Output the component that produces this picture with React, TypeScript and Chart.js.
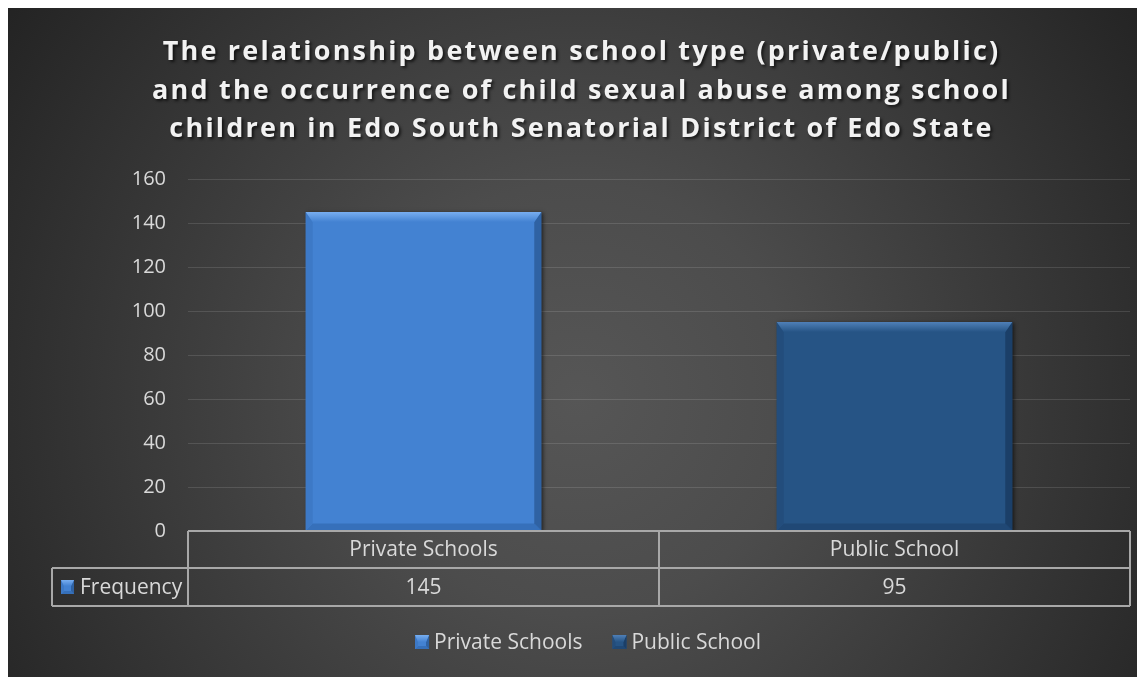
import React, { useEffect, useRef } from 'react';
import { Chart, registerables } from 'chart.js';

Chart.register(...registerables);

// ---------- data ----------
const titleLines = [
  'The relationship between school type (private/public)',
  'and the occurrence of child sexual abuse among school',
  'children in Edo South Senatorial District of Edo State',
];
const categories = ['Private Schools', 'Public School'];
const seriesName = 'Frequency';
const frequency = [145, 95];
const yMin = 0;
const yMax = 160;
const yStep = 20;

// ---------- styles ----------
const barFaces = ['#4382d2', '#265485'];
const bevelTopColors = ['#78aef0', '#4f80b8'];
const bevelLeftColors = ['#3d79c6', '#234d7c'];
const bevelRightColors = ['#2f62a3', '#1b3f68'];
const bevelBottomColors = ['#3670ba', '#204875'];
const textColor = '#d9d9d9';
const lineColor = '#a8a8a8';
const FONT = "'Open Sans', sans-serif";

function poly(ctx: CanvasRenderingContext2D, pts: number[][], fill: string | CanvasGradient) {
  ctx.beginPath();
  ctx.moveTo(pts[0][0], pts[0][1]);
  for (let i = 1; i < pts.length; i++) ctx.lineTo(pts[i][0], pts[i][1]);
  ctx.closePath();
  ctx.fillStyle = fill;
  ctx.fill();
}

function bevelRect(ctx: CanvasRenderingContext2D, l: number, t: number, r: number, b: number, s: number, st: number, i: number, fillFace: boolean) {
  if (fillFace) {
    ctx.fillStyle = barFaces[i];
    ctx.fillRect(l, t, r - l, b - t);
  }
  const g = ctx.createLinearGradient(0, t, 0, t + st);
  g.addColorStop(0, bevelTopColors[i]);
  g.addColorStop(1, barFaces[i]);
  poly(ctx, [[l, b], [l + s, b - s], [r - s, b - s], [r, b]], bevelBottomColors[i]);
  poly(ctx, [[l, t], [l + s, t + st], [l + s, b - s], [l, b]], bevelLeftColors[i]);
  poly(ctx, [[r, t], [r, b], [r - s, b - s], [r - s, t + st]], bevelRightColors[i]);
  poly(ctx, [[l, t], [r, t], [r - s, t + st], [l + s, t + st]], g);
}

const decorPlugin = {
  id: 'decor',
  beforeDraw(chart: any) {
    const { ctx, width, height } = chart;
    ctx.save();
    const g = ctx.createRadialGradient(570, 390, 0, 570, 390, 720);
    g.addColorStop(0, '#565656');
    g.addColorStop(0.3, '#4c4c4c');
    g.addColorStop(1, '#212121');
    ctx.fillStyle = g;
    ctx.fillRect(0, 0, width, height);
    ctx.restore();
  },
  beforeDatasetsDraw(chart: any) {
    const ctx = chart.ctx;
    ctx.save();
    ctx.shadowColor = 'rgba(0,0,0,0.6)';
    ctx.shadowBlur = 4;
    ctx.shadowOffsetX = 2;
    ctx.shadowOffsetY = 1;
  },
  afterDatasetsDraw(chart: any) {
    const ctx = chart.ctx;
    ctx.restore();
    const meta = chart.getDatasetMeta(0);
    ctx.save();
    meta.data.forEach((bar: any, i: number) => {
      const l = bar.x - bar.width / 2;
      const r = bar.x + bar.width / 2;
      bevelRect(ctx, l, bar.y, r, bar.base, 7, 10, i, false);
    });
    ctx.restore();
  },
  afterDraw(chart: any) {
    const { ctx, chartArea, width } = chart;
    const xs = chart.scales.x;
    ctx.save();

    // title
    ctx.font = `bold 27px ${FONT}`;
    (ctx as any).letterSpacing = '2.2px';
    ctx.textAlign = 'center';
    ctx.textBaseline = 'alphabetic';
    ctx.fillStyle = '#f2f2f2';
    ctx.shadowColor = 'rgba(0,0,0,0.65)';
    ctx.shadowBlur = 3;
    ctx.shadowOffsetX = 2;
    ctx.shadowOffsetY = 2;
    titleLines.forEach((line, k) => {
      ctx.fillText(line, width / 2 + 5, 52 + k * 38.5);
    });
    (ctx as any).letterSpacing = '0px';
    ctx.shadowColor = 'transparent';
    ctx.shadowBlur = 0;
    ctx.shadowOffsetX = 0;
    ctx.shadowOffsetY = 0;

    // data table
    const left = chartArea.left;
    const right = chartArea.right;
    const y0 = chartArea.bottom;
    const y1 = y0 + 37;
    const y2 = y0 + 75;
    const labelLeft = 44;
    const bounds = [left];
    for (let i = 0; i < categories.length - 1; i++) {
      bounds.push((xs.getPixelForValue(i) + xs.getPixelForValue(i + 1)) / 2);
    }
    bounds.push(right);

    ctx.strokeStyle = lineColor;
    ctx.lineWidth = 2;
    ctx.beginPath();
    ctx.moveTo(left, y0); ctx.lineTo(right, y0);
    ctx.moveTo(labelLeft, y1); ctx.lineTo(right, y1);
    ctx.moveTo(labelLeft, y2); ctx.lineTo(right, y2);
    ctx.moveTo(labelLeft, y1); ctx.lineTo(labelLeft, y2);
    bounds.forEach((bx) => { ctx.moveTo(bx, y0); ctx.lineTo(bx, y2); });
    ctx.stroke();

    ctx.font = `21px ${FONT}`;
    ctx.fillStyle = textColor;
    ctx.textAlign = 'center';
    ctx.textBaseline = 'middle';
    categories.forEach((c, i) => {
      const cx = xs.getPixelForValue(i);
      ctx.fillText(c, cx, (y0 + y1) / 2 + 1);
      ctx.fillText(String(frequency[i]), cx, (y1 + y2) / 2 + 1);
    });

    // series label with key
    const ky = (y1 + y2) / 2;
    bevelRect(ctx, labelLeft + 9, ky - 7, labelLeft + 22, ky + 7, 3, 6, 0, true);
    ctx.fillStyle = textColor;
    ctx.textAlign = 'left';
    ctx.fillText(seriesName, labelLeft + 28, ky + 1);

    // legend
    const ly = 634;
    const iconW = 14;
    const gapIcon = 5;
    const gapItem = 30;
    const widths = categories.map((c) => ctx.measureText(c).width);
    const total = widths.reduce((a, w) => a + iconW + gapIcon + w, 0) + gapItem * (categories.length - 1);
    let lx = 580 - total / 2;
    categories.forEach((c, i) => {
      bevelRect(ctx, lx, ly - 7, lx + iconW, ly + 7, 3, 7, i, true);
      ctx.fillStyle = textColor;
      ctx.textAlign = 'left';
      ctx.fillText(c, lx + iconW + gapIcon, ly + 1);
      lx += iconW + gapIcon + widths[i] + gapItem;
    });

    ctx.restore();
  },
};

export default function App() {
  const ref = useRef<HTMLCanvasElement | null>(null);
  useEffect(() => {
    if (!ref.current) return;
    const chart = new Chart(ref.current, {
      type: 'bar',
      data: {
        labels: categories,
        datasets: [
          {
            label: seriesName,
            data: frequency,
            backgroundColor: barFaces,
            borderWidth: 0,
            barPercentage: 0.5,
            categoryPercentage: 1,
          },
        ],
      },
      options: {
        responsive: false,
        animation: false,
        layout: { padding: { top: 171, right: 15, left: 0, bottom: 0 } },
        plugins: {
          legend: { display: false },
          title: { display: false },
          tooltip: { enabled: false },
        },
        scales: {
          x: {
            type: 'category',
            offset: true,
            grid: { display: false },
            border: { display: false },
            ticks: { display: false },
            afterFit: (s: any) => { s.height = 146; },
          },
          y: {
            min: yMin,
            max: yMax,
            ticks: {
              stepSize: yStep,
              color: textColor,
              padding: 22,
              font: { family: FONT, size: 20 },
            },
            grid: { color: 'rgba(255,255,255,0.12)', drawTicks: false, lineWidth: 1 },
            border: { display: false },
            afterFit: (s: any) => { s.width = 180; },
          },
        },
      },
      plugins: [decorPlugin],
    });
    return () => chart.destroy();
  }, []);
  return (
    <div style={{ width: 1137, height: 669 }}>
      <canvas ref={ref} width={1137} height={669} style={{ display: 'block' }} />
    </div>
  );
}
